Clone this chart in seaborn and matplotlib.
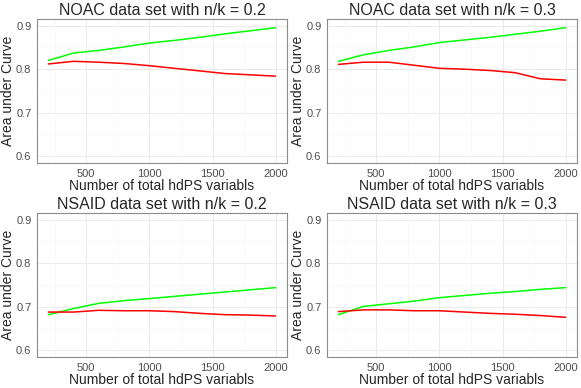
import numpy as np
import pandas as pd
import seaborn as sns
import matplotlib.pyplot as plt
from matplotlib.ticker import MultipleLocator

# number of total hdPS variables
n_vars = [200, 400, 600, 800, 1000, 1200, 1400, 1600, 1800, 2000]

titles = ['NOAC data set with n/k = 0.2', 'NOAC data set with n/k = 0.3',
          'NSAID data set with n/k = 0.2', 'NSAID data set with n/k = 0.3']

# AUC, green curve
green_noac_02 = [0.820, 0.837, 0.843, 0.851, 0.860, 0.866, 0.873, 0.881, 0.888, 0.895]
green_noac_03 = [0.818, 0.833, 0.843, 0.851, 0.861, 0.867, 0.873, 0.880, 0.887, 0.895]
green_nsaid_02 = [0.682, 0.696, 0.708, 0.714, 0.719, 0.724, 0.729, 0.734, 0.739, 0.744]
green_nsaid_03 = [0.682, 0.701, 0.707, 0.713, 0.721, 0.726, 0.731, 0.735, 0.740, 0.744]

# AUC, red curve
red_noac_02 = [0.812, 0.818, 0.816, 0.813, 0.808, 0.802, 0.796, 0.790, 0.787, 0.784]
red_noac_03 = [0.811, 0.816, 0.816, 0.809, 0.802, 0.800, 0.797, 0.792, 0.778, 0.775]
red_nsaid_02 = [0.688, 0.688, 0.692, 0.691, 0.691, 0.689, 0.685, 0.682, 0.681, 0.679]
red_nsaid_03 = [0.689, 0.693, 0.693, 0.691, 0.691, 0.688, 0.685, 0.683, 0.680, 0.676]

greens = [green_noac_02, green_noac_03, green_nsaid_02, green_nsaid_03]
reds = [red_noac_02, red_noac_03, red_nsaid_02, red_nsaid_03]

sns.set_style('white')
plt.rcParams['font.family'] = ['Liberation Sans', 'DejaVu Sans']

W, H = 581, 388
fig = plt.figure(figsize=(W / 100, H / 100), dpi=100)

# panel boxes in pixels: left, top, right, bottom
boxes = [(37, 19, 287, 163), (327, 19, 577, 163),
         (37, 213, 287, 357), (327, 213, 577, 357)]

for i, (l, t, r, b) in enumerate(boxes):
    ax = fig.add_axes([l / W, 1 - b / H, (r - l) / W, (b - t) / H])
    df = pd.DataFrame({'x': n_vars * 2,
                       'auc': greens[i] + reds[i],
                       'grp': ['green'] * 10 + ['red'] * 10})
    sns.lineplot(data=df, x='x', y='auc', hue='grp',
                 palette={'green': '#00FF00', 'red': '#FF0000'},
                 linewidth=1.1, legend=False, ax=ax, zorder=3)
    ax.set_xlim(110, 2090)
    ax.set_ylim(0.585, 0.915)
    ax.xaxis.set_major_locator(MultipleLocator(500))
    ax.xaxis.set_minor_locator(MultipleLocator(250))
    ax.yaxis.set_major_locator(MultipleLocator(0.1))
    ax.yaxis.set_minor_locator(MultipleLocator(0.05))
    ax.set_yticks([0.6, 0.7, 0.8, 0.9])
    ax.set_yticklabels(['0.6', '0.7', '0.8', '0.9'])
    ax.grid(which='major', color='#EBEBEB', linewidth=0.7)
    ax.grid(which='minor', color='#F5F5F5', linewidth=0.4)
    ax.set_axisbelow(True)
    ax.tick_params(which='major', length=2.5, width=0.6, color='#555555',
                   labelsize=8, labelcolor='#4D4D4D', pad=1.5)
    ax.tick_params(which='minor', length=0)
    for s in ax.spines.values():
        s.set_color('#8C8C8C')
        s.set_linewidth(0.8)
    ax.set_title(titles[i], fontsize=11.5, pad=3)
    ax.set_xlabel('Number of total hdPS variabls', fontsize=10, labelpad=0)
    ax.set_ylabel('Area under Curve', fontsize=10, labelpad=0.5)

fig.savefig('out.png', dpi=100)
